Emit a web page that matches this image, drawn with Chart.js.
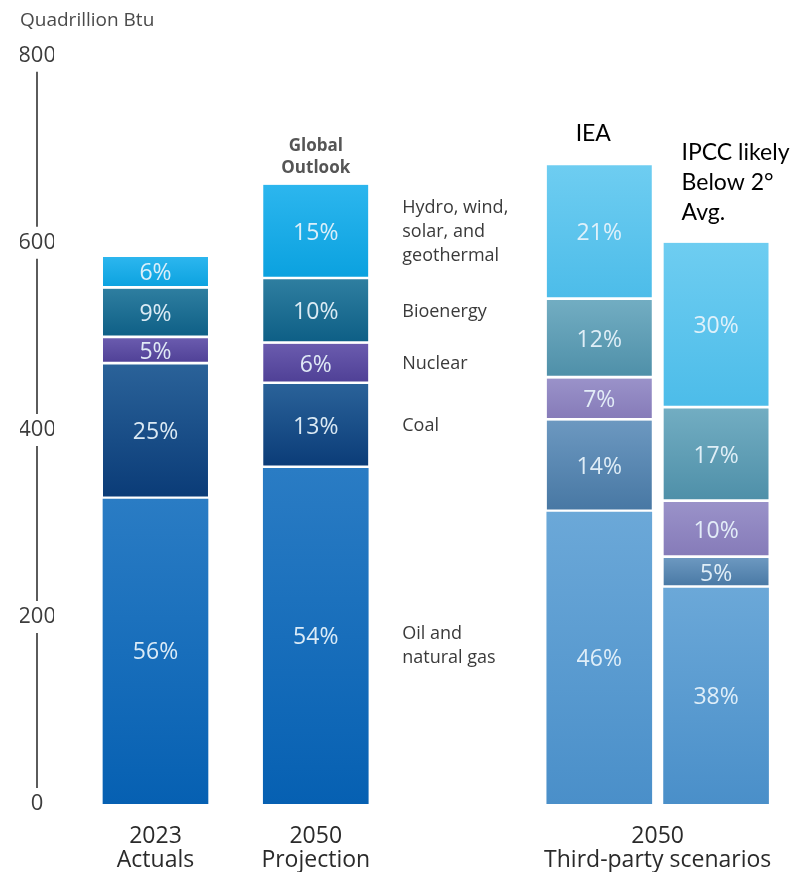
<!DOCTYPE html>
<html>
<head>
<meta charset="utf-8">
<script src="https://cdn.jsdelivr.net/npm/chart.js@4.4.1/dist/chart.umd.min.js"></script>
<style>
  html, body { margin: 0; padding: 0; background: #fff; }
  #wrap { width: 795px; height: 872px; }
</style>
</head>
<body>
<div id="wrap"><canvas id="energyChart" width="795" height="872"></canvas></div>
<script>
// fonts
const chartFont = '"Open Sans", "Noto Sans", sans-serif';
const noteFont = 'Lato, "Open Sans", sans-serif';

// where each bar sits on the x scale, and the bottom labels
const barSlots = [1.26, 3.25, 6.77, 8.22];
const axisLabels = [['2023', 'Actuals'], ['2050', 'Projection'], ['2050', 'Third-party scenarios']];
const axisLabelSlots = [barSlots[0], barSlots[1], (barSlots[2] + barSlots[3]) / 2];
const yTicks = [0, 200, 400, 600, 800];

// quadrillion Btu, per bar: 2023, 2050 Outlook, IEA, IPCC
const oilGas = [326, 359, 312, 231];
const coal = [144, 90, 98, 32];
const nuclear = [28, 43, 45, 60];
const bioenergy = [53, 69, 84, 100];
const renewables = [34, 101, 144, 177];

// shares printed on the segments
const oilGasPct = [56, 54, 46, 38];
const coalPct = [25, 13, 14, 5];
const nuclearPct = [5, 6, 7, 10];
const bioenergyPct = [9, 10, 12, 17];
const renewablesPct = [6, 15, 21, 30];

// bottom -> top
const series = [
    { lines: ['Oil and', 'natural gas'], values: oilGas, pct: oilGasPct, own: ['#2a7cc4', '#0660b2'], third: ['#6ba8d8', '#4a8fc9'] },
    { lines: ['Coal'], values: coal, pct: coalPct, own: ['#2a6299', '#0a3b77'], third: ['#6c98c0', '#4777a3'] },
    { lines: ['Nuclear'], values: nuclear, pct: nuclearPct, own: ['#6a5bae', '#4e3f95'], third: ['#9a92c9', '#857ab8'] },
    { lines: ['Bioenergy'], values: bioenergy, pct: bioenergyPct, own: ['#2e7ea0', '#0d5e85'], third: ['#72adc2', '#4e8fa8'] },
    { lines: ['Hydro, wind,', 'solar, and', 'geothermal'], values: renewables, pct: renewablesPct, own: ['#2cb6ee', '#0aa1df'], third: ['#6ecdf1', '#4cbce9'] }
];

// gradient per segment, lighter at the top
function segmentFill(context) {
    const chart = context.chart;
    const d = context.datasetIndex;
    const i = context.dataIndex;
    const s = series[d];
    if (i === undefined) return s.own[1];
    const pair = i < 2 ? s.own : s.third;
    const yScale = chart.scales.y;
    if (!chart.chartArea || !yScale) return pair[1];
    let base = 0;
    for (let k = 0; k < d; k++) base += series[k].values[i];
    const yTop = yScale.getPixelForValue(base + s.values[i]);
    const yBot = yScale.getPixelForValue(base);
    if (!isFinite(yTop) || !isFinite(yBot) || yTop === yBot) return pair[1];
    const g = chart.ctx.createLinearGradient(0, yTop, 0, yBot);
    g.addColorStop(0, pair[0]);
    g.addColorStop(1, pair[1]);
    return g;
}

// broken vertical axis line between the tick labels
const axisLinePlugin = {
    id: 'axisLine',
    afterDraw(chart) {
        const y = chart.scales.y;
        const x = (y.left + y.right) / 2;
        const ctx = chart.ctx;
        ctx.save();
        ctx.strokeStyle = '#333';
        ctx.lineWidth = 1.6;
        for (let k = 0; k < yTicks.length - 1; k++) {
            const a = y.getPixelForValue(yTicks[k]) - 16;
            const b = y.getPixelForValue(yTicks[k + 1]) + 16;
            ctx.beginPath();
            ctx.moveTo(x, a);
            ctx.lineTo(x, b);
            ctx.stroke();
        }
        ctx.restore();
    }
};

// percentages, side labels and scenario headers
const textPlugin = {
    id: 'segmentText',
    afterDatasetsDraw(chart) {
        const ctx = chart.ctx;
        ctx.save();
        ctx.textAlign = 'center';
        ctx.textBaseline = 'middle';
        ctx.font = '23px ' + chartFont;
        ctx.fillStyle = 'rgba(232, 243, 251, 0.94)';
        series.forEach((s, d) => {
            chart.getDatasetMeta(d).data.forEach((bar, i) => {
                ctx.fillText(s.pct[i] + '%', bar.x, (bar.y + bar.base) / 2 + 1);
            });
        });

        // side labels next to the 2050 Outlook bar
        ctx.textAlign = 'left';
        ctx.font = '18px ' + chartFont;
        ctx.fillStyle = '#3a3a3a';
        series.forEach((s, d) => {
            const bar = chart.getDatasetMeta(d).data[1];
            const mid = (bar.y + bar.base) / 2 + (d === 0 ? 10 : 0);
            const x = bar.x + bar.width / 2 + 34;
            s.lines.forEach((line, n) => {
                ctx.fillText(line, x, mid + (n - (s.lines.length - 1) / 2) * 24);
            });
        });

        const tops = chart.getDatasetMeta(series.length - 1).data;

        ctx.textAlign = 'center';
        ctx.font = 'bold 17px ' + chartFont;
        ctx.fillStyle = '#555555';
        ctx.fillText('Global', tops[1].x, tops[1].y - 39);
        ctx.fillText('Outlook', tops[1].x, tops[1].y - 17);

        ctx.font = '23px ' + noteFont;
        ctx.fillStyle = '#000';
        ctx.fillText('IEA', tops[2].x - 6, tops[2].y - 32);

        ctx.textAlign = 'left';
        const ipccX = tops[3].x - tops[3].width / 2 + 18;
        ['IPCC likely', 'Below 2°', 'Avg.'].forEach((line, n) => {
            ctx.fillText(line, ipccX, tops[3].y - 90 + n * 30);
        });
        ctx.restore();
    }
};

Chart.defaults.font.family = chartFont;

new Chart(document.getElementById('energyChart'), {
    type: 'bar',
    data: {
        datasets: series.map((s, d) => ({
            data: s.values.map((v, i) => ({ x: barSlots[i], y: v })),
            backgroundColor: segmentFill,
            borderColor: '#ffffff',
            borderWidth: d === 0 ? 0 : { top: 0, right: 0, bottom: 3, left: 0 },
            borderSkipped: false,
            barThickness: 105
        }))
    },
    options: {
        responsive: false,
        animation: false,
        layout: { padding: { left: 20, right: 0, top: 0, bottom: 0 } },
        plugins: {
            legend: { display: false },
            tooltip: { enabled: false },
            title: {
                display: true,
                text: 'Quadrillion Btu',
                align: 'start',
                color: '#4a4a4a',
                font: { size: 19, weight: 'normal' },
                padding: { top: 9, bottom: 24 }
            }
        },
        scales: {
            x: {
                type: 'linear',
                stacked: true,
                offset: false,
                min: 0,
                max: 9.2,
                grid: { display: false, drawTicks: false },
                border: { display: false },
                afterBuildTicks: scale => {
                    scale.ticks = axisLabelSlots.map(v => ({ value: v }));
                },
                afterFit: scale => { scale.height = 68; },
                ticks: {
                    autoSkip: false,
                    maxRotation: 0,
                    minRotation: 0,
                    padding: 20,
                    color: '#2a2a2a',
                    font: { size: 23, lineHeight: 1.05 },
                    callback: (value, index) => axisLabels[index]
                }
            },
            y: {
                stacked: true,
                min: 0,
                max: 800,
                grid: { display: false, drawTicks: false },
                border: { display: false },
                afterFit: scale => { scale.width = 34; },
                ticks: {
                    stepSize: 200,
                    crossAlign: 'center',
                    padding: -2,
                    color: '#3c3c3c',
                    font: { size: 22 }
                }
            }
        }
    },
    plugins: [axisLinePlugin, textPlugin]
});
</script>
</body>
</html>
